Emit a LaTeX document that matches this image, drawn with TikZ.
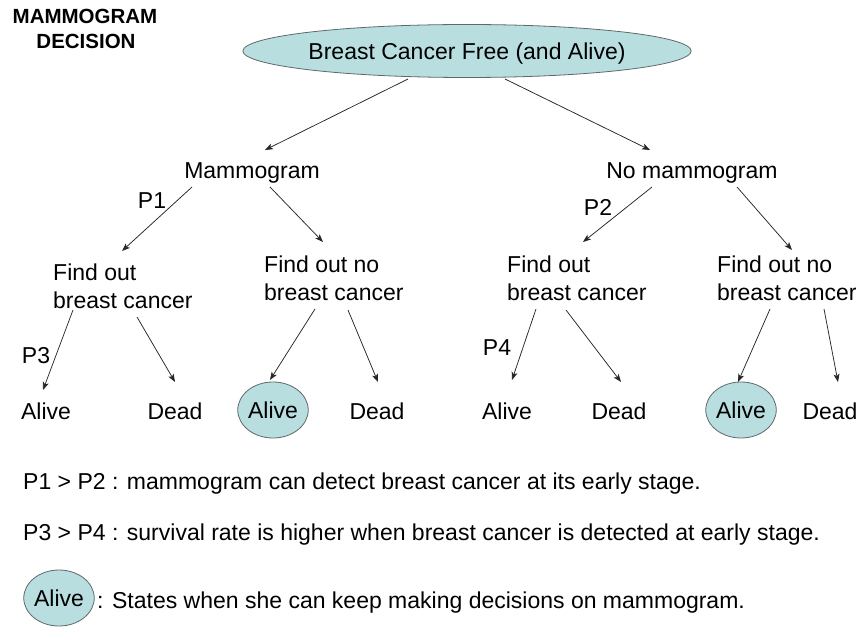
\documentclass[tikz,border=0pt]{standalone}
\usepackage{fontspec}
\setmainfont{Liberation Sans}
\usetikzlibrary{arrows.meta,shapes.geometric}
\definecolor{fillc}{RGB}{184,222,224}
\definecolor{edgec}{RGB}{95,105,105}
\begin{document}
\begin{tikzpicture}[x=1pt,y=-1pt,
  every node/.style={font=\fontsize{23}{27.5}\selectfont},
  txt/.style={inner sep=0pt, text height=16.6pt, text depth=0pt},
  blk/.style={inner sep=0pt, align=left, anchor=north west},
  oval/.style={ellipse, draw=edgec, line width=0.8pt, fill=fillc, inner sep=0pt, text height=16.6pt, text depth=0pt},
  ttl/.style={inner sep=0pt, font=\fontsize{20.5}{24}\selectfont\bfseries, text height=14.7pt, text depth=0pt},
  arr/.style={draw=black!85, line width=0.75pt, -{Stealth[length=8pt,width=6pt,inset=2pt]}}]
\useasboundingbox (0,0) rectangle (862,628);

% title
\node[ttl] (t1) at (85,16) {MAMMOGRAM};
\node[ttl] (t2) at (86,41) {DECISION};

% root
\node[oval, minimum width=365pt, minimum height=53pt] (root) at (467,51) {Breast Cancer Free (and Alive)};

% level 1
\node[txt] (mam) at (252,170) {Mammogram};
\node[txt] (nomam) at (692,170) {No mammogram};

% level 2
\node[blk] (fb1) at (53,264) {Find out\\breast cancer};
\node[blk] (fn1) at (264,256) {Find out no\\breast cancer};
\node[blk] (fb2) at (507,256) {Find out\\breast cancer};
\node[blk] (fn2) at (717,256) {Find out no\\breast cancer};

% leaves
\node[txt] (a1) at (46,411) {Alive};
\node[txt] (d1) at (175,411) {Dead};
\node[oval, minimum width=70pt, minimum height=56pt] (A1) at (273,410) {Alive};
\node[txt] (d2) at (377,411) {Dead};
\node[txt] (a3) at (507,411) {Alive};
\node[txt] (d3) at (619,411) {Dead};
\node[oval, minimum width=70pt, minimum height=56pt] (A2) at (741,410) {Alive};
\node[txt] (d4) at (830,411) {Dead};

% probability labels
\node[txt] (p1) at (152,200) {P1};
\node[txt] (p2) at (598,207) {P2};
\node[txt] (p3) at (36,355) {P3};
\node[txt] (p4) at (497,347) {P4};

% connectors
\draw[arr] ([shift={(-59,28)}]root.center) -- ([shift={(13,-20)}]mam.center);
\draw[arr] ([shift={(38,28)}]root.center) -- ([shift={(-42,-20)}]nomam.center);

\draw[arr] ([shift={(-60,17)}]mam.center) -- ([shift={(69,-13)}]fb1.north west);
\draw[arr] ([shift={(18,17)}]mam.center) -- ([shift={(59,-14)}]fn1.north west);
\draw[arr] ([shift={(-40,17)}]nomam.center) -- ([shift={(76,-14)}]fb2.north west);
\draw[arr] ([shift={(45,17)}]nomam.center) -- ([shift={(75,-6)}]fn2.north west);

\draw[arr] ([shift={(20,46)}]fb1.north west) -- ([shift={(-3,-21)}]a1.center);
\draw[arr] ([shift={(84,53)}]fb1.north west) -- ([shift={(0,-29)}]d1.center);
\draw[arr] ([shift={(51,53)}]fn1.north west) -- ([shift={(-3,-30)}]A1.center);
\draw[arr] ([shift={(84,54)}]fn1.north west) -- ([shift={(1,-29)}]d2.center);
\draw[arr] ([shift={(29,53)}]fb2.north west) -- ([shift={(5,-31)}]a3.center);
\draw[arr] ([shift={(59,54)}]fb2.north west) -- ([shift={(2,-29)}]d3.center);
\draw[arr] ([shift={(53,53)}]fn2.north west) -- ([shift={(-3,-28)}]A2.center);
\draw[arr] ([shift={(107,53)}]fn2.north west) -- ([shift={(8,-29)}]d4.center);

% notes
\node[txt, anchor=west] (n1) at (23,481) {P1 > P2 : mammogram can detect breast cancer at its early stage.};
\node[txt, anchor=west] (n2) at (23,532) {P3 > P4 : survival rate is higher when breast cancer is detected at early stage.};
\node[oval, minimum width=66pt, minimum height=56pt] (leg) at (59,598) {Alive};
\node[txt, anchor=west] (n3) at (97,600) {: States when she can keep making decisions on mammogram.};
\end{tikzpicture}
\end{document}
